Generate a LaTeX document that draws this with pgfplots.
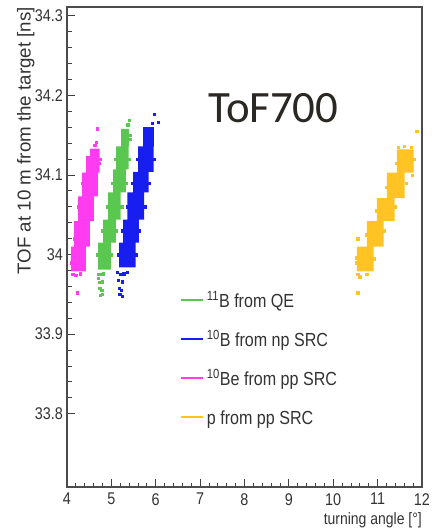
\documentclass[border=0pt]{standalone}
\usepackage{fontspec}
\setmainfont{Liberation Sans}[FakeStretch=0.85]
\newfontfamily\ylabfont{Liberation Sans}
\newfontfamily\calfont{Carlito}
\usepackage{pgfplots}
\pgfplotsset{compat=1.18}
\definecolor{cgreen}{RGB}{90,200,80}
\definecolor{cblue}{RGB}{25,30,240}
\definecolor{cmag}{RGB}{255,60,240}
\definecolor{cyel}{RGB}{255,195,35}
\definecolor{tofcol}{RGB}{43,39,34}
\begin{document}
\begin{tikzpicture}
\begin{axis}[
  at={(0,0)}, anchor=south west,
  scale only axis, width=355bp, height=480bp,
  xmin=4, xmax=12, ymin=33.708, ymax=34.311,
  xtick={4,5,6,7,8,9,10,11,12}, xticklabels={4,5,6,7,8,9,10,11,12},
  ytick={33.8,33.9,34,34.1,34.2,34.3}, yticklabels={33.8,33.9,34,34.1,34.2,34.3},
  minor x tick num=4, minor y tick num=4,
  tick align=inside, xtick pos=lower, ytick pos=left,
  major tick length=8bp, minor tick length=4.5bp,
  tick style={black!75, line width=0.9pt},
  axis line style={black!70, line width=1.1pt},
  tick label style={font=\fontsize{17}{17}\selectfont, text=black!80},
  yticklabel style={inner sep=0pt, xshift=-4bp},
  xticklabel style={inner sep=0pt, yshift=-6bp},
  xlabel={turning angle [°]},
  xlabel style={at={(rel axis cs:1,0)}, anchor=base east, yshift=-37bp, inner sep=0pt, font=\fontsize{16.5}{16.5}\selectfont, text=black!80},
  ylabel={TOF at 10 m from the target [ns]},
  ylabel style={at={(ticklabel cs:1)}, anchor=south east, inner sep=0pt, font=\ylabfont\fontsize{18.8}{18.8}\selectfont, text=black!80},
  legend style={at={(0.318,0.402)}, anchor=north west, draw=none, fill=none, inner sep=0pt,
    row sep=22bp, column sep=3bp, font=\fontsize{19}{19}\selectfont, text=black!80,
    nodes={inner sep=0pt, text height=13bp, text depth=4bp, anchor=base west}},
  legend cell align=left,
  legend image code/.code={\draw[#1, line width=1.8pt] (0bp,7bp) -- (22bp,7bp);},
]
% magenta: 10Be from pp SRC
\addplot[fill=cmag, draw=none, forget plot] coordinates {
(4.093,33.979) (4.093,34.010) (4.160,34.010) (4.160,34.042) (4.250,34.042) (4.250,34.073)
(4.340,34.073) (4.340,34.103) (4.430,34.103) (4.430,34.124) (4.520,34.124) (4.520,34.133)
(4.738,34.133) (4.738,34.103) (4.693,34.103) (4.693,34.073) (4.603,34.073) (4.603,34.042)
(4.513,34.042) (4.513,34.010) (4.423,34.010) (4.423,33.979)};
\addplot[only marks, mark=square*, mark size=1.2pt, cmag, forget plot] coordinates {
(4.225,33.952) (4.676,34.158) (4.653,34.141) (4.13,33.975) (4.20,33.974) (4.30,33.976)
(4.10,33.99) (4.17,34.02) (4.44,34.02) (4.53,34.05) (4.26,34.06) (4.62,34.09) (4.35,34.09)
(4.72,34.115) (4.62,34.137) (4.75,34.12)};
% green: 11B from QE
\addplot[fill=cgreen, draw=none, forget plot] coordinates {
(4.701,33.981) (4.701,34.015) (4.813,34.015) (4.813,34.044) (4.926,34.044) (4.926,34.078)
(5.039,34.078) (5.039,34.107) (5.106,34.107) (5.106,34.136) (5.219,34.136) (5.219,34.158)
(5.396,34.158) (5.396,34.136) (5.391,34.136) (5.391,34.107) (5.324,34.107) (5.324,34.078)
(5.211,34.078) (5.211,34.044) (5.099,34.044) (5.099,34.015) (4.986,34.015) (4.986,33.981)};
\addplot[only marks, mark=square*, mark size=1.2pt, cgreen, forget plot] coordinates {
(4.71,33.975) (4.76,33.975) (4.82,33.976) (4.73,33.965) (4.79,33.966) (4.74,33.958)
(4.78,33.955) (4.75,33.949) (4.80,33.95) (4.70,33.97) (5.40,34.169) (5.37,34.163)
(5.42,34.145) (5.41,34.15) (4.69,34.00) (5.00,34.0) (4.80,34.03) (5.11,34.03) (4.91,34.06)
(5.23,34.06) (5.03,34.09) (5.34,34.09) (5.10,34.12) (5.40,34.12)};
% blue: 10B from np SRC
\addplot[fill=cblue, draw=none, forget plot] coordinates {
(5.174,33.984) (5.174,34.015) (5.264,34.015) (5.264,34.044) (5.360,34.044) (5.360,34.078)
(5.489,34.078) (5.489,34.104) (5.602,34.104) (5.602,34.136) (5.714,34.136) (5.714,34.160)
(5.959,34.160) (5.959,34.136) (5.954,34.136) (5.954,34.104) (5.842,34.104) (5.842,34.078)
(5.740,34.078) (5.740,34.044) (5.617,34.044) (5.617,34.015) (5.549,34.015) (5.549,33.984)};
\addplot[only marks, mark=square*, mark size=1.2pt, cblue, forget plot] coordinates {
(5.13,33.978) (5.20,33.975) (5.28,33.976) (5.16,33.968) (5.24,33.966) (5.18,33.958)
(5.22,33.955) (5.19,33.950) (5.25,33.948) (5.36,33.978) (5.959,34.176) (6.05,34.166)
(5.757,34.147) (5.92,34.165) (5.16,34.0) (5.56,34.0) (5.25,34.03) (5.63,34.03) (5.35,34.06)
(5.75,34.06) (5.48,34.09) (5.85,34.09) (5.59,34.12) (5.96,34.12)};
% yellow: p from pp SRC
\addplot[fill=cyel, draw=none, forget plot] coordinates {
(10.534,33.979) (10.534,34.010) (10.759,34.010) (10.759,34.042) (10.985,34.042) (10.985,34.071)
(11.210,34.071) (11.210,34.103) (11.435,34.103) (11.435,34.132) (11.810,34.132) (11.810,34.103)
(11.608,34.103) (11.608,34.071) (11.382,34.071) (11.382,34.042) (11.135,34.042) (11.135,34.010)
(10.909,34.010) (10.909,33.979)};
\addplot[only marks, mark=square*, mark size=1.2pt, cyel, forget plot] coordinates {
(10.53,33.99) (10.55,33.975) (10.60,33.972) (10.52,33.996) (10.55,34.02) (10.75,34.025)
(10.98,34.055) (11.20,34.085) (11.43,34.115) (11.47,34.135) (11.60,34.136) (11.75,34.135)
(11.82,34.12) (11.78,34.10) (11.64,34.09) (11.40,34.06) (11.15,34.03) (10.92,33.995)
(10.75,33.975) (10.55,33.952) (11.88,34.155)};
\addlegendimage{cgreen}
\addlegendentry{\textsuperscript{11}B from QE}
\addlegendimage{cblue}
\addlegendentry{\textsuperscript{10}B from np SRC}
\addlegendimage{cmag}
\addlegendentry{\textsuperscript{10}Be from pp SRC}
\addlegendimage{cyel}
\addlegendentry{p from pp SRC}
\node[anchor=base west, inner sep=0pt, font=\calfont\fontsize{45}{45}\selectfont, text=tofcol] at (rel axis cs:0.397,0.760) {ToF700};
\end{axis}
\pgfresetboundingbox
\path[use as bounding box] (-67bp,-44bp) rectangle (365bp,487bp);
\end{tikzpicture}
\end{document}
